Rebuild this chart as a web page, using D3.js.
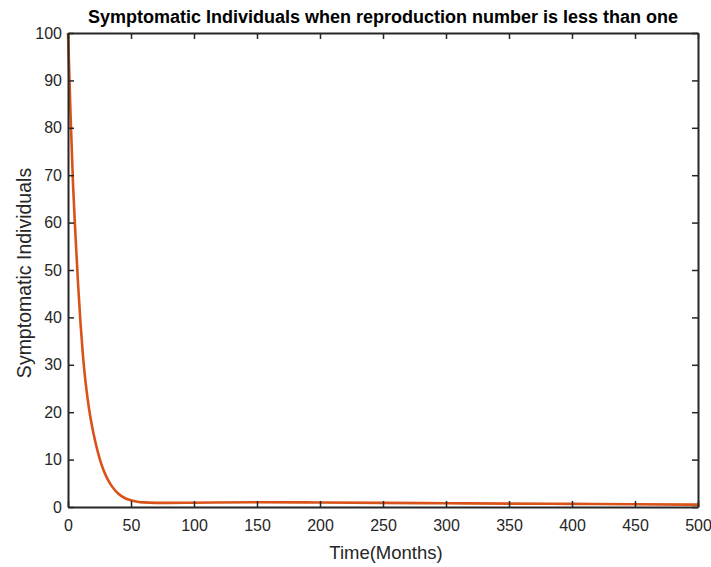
<!DOCTYPE html>
<html>
<head>
<meta charset="utf-8">
<script src="https://cdn.jsdelivr.net/npm/d3@7"></script>
<style>
  body { margin: 0; background: #fff; }
  svg { font-family: "Liberation Sans", Arial, sans-serif; }
</style>
</head>
<body>
<svg id="chart" width="711" height="567"></svg>
<script>
// values
const timeMonths = [0, 2, 4, 6, 8, 10, 12, 14, 16, 18, 20, 22, 25, 28, 31, 35, 40, 45, 50, 55, 60, 70, 80, 100, 150, 200, 250, 300, 350, 400, 450, 500];
const symptomatic = [100, 83, 68, 57, 47, 38.5, 31.5, 26.2, 22, 18.6, 15.8, 13.4, 10.3, 7.9, 6.1, 4.3, 2.8, 1.9, 1.4, 1.12, 0.97, 0.87, 0.86, 0.9, 1.0, 0.95, 0.88, 0.8, 0.72, 0.65, 0.58, 0.5];
const xTicks = [0, 50, 100, 150, 200, 250, 300, 350, 400, 450, 500];
const yTicks = [0, 10, 20, 30, 40, 50, 60, 70, 80, 90, 100];

const svg = d3.select("#chart");
const margin = { top: 33, right: 13, bottom: 60, left: 68 };
const width = +svg.attr("width") - margin.left - margin.right;
const height = +svg.attr("height") - margin.top - margin.bottom;

const g = svg.append("g")
  .attr("transform", `translate(${margin.left},${margin.top})`);

const x = d3.scaleLinear().domain([0, 500]).range([0, width]);
const y = d3.scaleLinear().domain([0, 100]).range([height, 0]);

const axisColor = "#262626";

// Curve
const data = timeMonths.map((t, i) => ({ t: t, v: symptomatic[i] }));
const line = d3.line()
  .x(d => x(d.t))
  .y(d => y(d.v))
  .curve(d3.curveMonotoneX);

g.append("path")
  .datum(data)
  .attr("fill", "none")
  .attr("stroke", "#D95319")
  .attr("stroke-width", 2.6)
  .attr("d", line);

// Axes with inward ticks, mirrored on top and right
function styleAxis(sel) {
  sel.selectAll("path, line").attr("stroke", axisColor).attr("stroke-width", 1.5);
  sel.select(".domain").attr("stroke-width", 2);
  sel.selectAll("text")
    .attr("fill", axisColor)
    .style("font-size", "16px");
}

g.append("g")
  .attr("transform", `translate(0,${height})`)
  .call(d3.axisBottom(x).tickValues(xTicks).tickSizeInner(-6).tickSizeOuter(0).tickPadding(13))
  .call(styleAxis);

g.append("g")
  .call(d3.axisLeft(y).tickValues(yTicks).tickSizeInner(-6).tickSizeOuter(0).tickPadding(6))
  .call(styleAxis);

g.append("g")
  .call(d3.axisTop(x).tickValues(xTicks).tickSizeInner(-6).tickSizeOuter(0).tickFormat(""))
  .call(styleAxis);

g.append("g")
  .attr("transform", `translate(${width},0)`)
  .call(d3.axisRight(y).tickValues(yTicks).tickSizeInner(-6).tickSizeOuter(0).tickFormat(""))
  .call(styleAxis);

// Title
svg.append("text")
  .attr("x", margin.left + width / 2)
  .attr("y", 23)
  .attr("text-anchor", "middle")
  .attr("fill", "#000")
  .style("font-size", "18px")
  .style("font-weight", "bold")
  .text("Symptomatic Individuals when reproduction number is less than one");

// Axis labels
svg.append("text")
  .attr("x", margin.left + width / 2 + 3)
  .attr("y", 559)
  .attr("text-anchor", "middle")
  .attr("fill", axisColor)
  .style("font-size", "18.5px")
  .text("Time(Months)");

svg.append("text")
  .attr("transform", `translate(31,${margin.top + height / 2 + 3}) rotate(-90)`)
  .attr("text-anchor", "middle")
  .attr("fill", axisColor)
  .style("font-size", "19.5px")
  .text("Symptomatic Individuals");
</script>
</body>
</html>
